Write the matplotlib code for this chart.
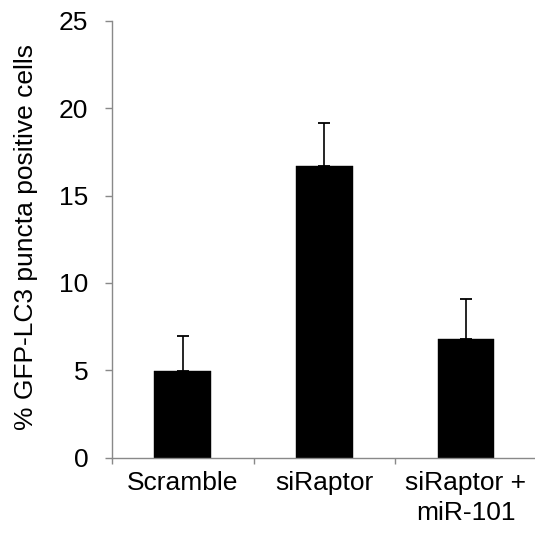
import matplotlib
matplotlib.use("Agg")
import matplotlib.pyplot as plt
import numpy as np

categories = ["Scramble", "siRaptor", "siRaptor +\nmiR-101"]
values = [4.93, 16.67, 6.8]
errors = [2.02, 2.46, 2.29]
yticks = [0, 5, 10, 15, 20, 25]

plt.rcParams['font.family'] = ['Liberation Sans', 'DejaVu Sans']

W, H = 535, 546
FS = 19
fig = plt.figure(figsize=(W/100, H/100), dpi=100)
left, right = 112, 536.7
top, bottom = 21.0, 457.5
ax = fig.add_axes([left/W, 1 - bottom/H, (right-left)/W, (bottom-top)/H])

x = np.arange(len(categories))
ax.bar(x, values, width=0.4, color='black', edgecolor='black', linewidth=0.3)
ax.errorbar(x, values, yerr=[np.zeros(len(values)), errors], fmt='none',
            ecolor='black', elinewidth=1.2, capsize=4.3, capthick=1.3)

ax.set_xlim(-0.5, len(categories) - 0.5)
ax.set_ylim(0, 25)
ax.set_yticks(yticks)
ax.set_yticklabels([str(t) for t in yticks], fontsize=FS)

ax.set_xticks(x)
ax.set_xticklabels(categories, fontsize=FS, linespacing=1.32, va='top')
ax.tick_params(axis='x', length=0, pad=9.5)
ax.set_xticks(np.arange(len(categories)+1) - 0.5, minor=True)
ax.tick_params(axis='x', which='minor', length=4.5, width=1.0, color='#898989', direction='out')
ax.tick_params(axis='y', length=5, width=1.0, color='#898989', direction='out', pad=12)

for s in ['top', 'right']:
    ax.spines[s].set_visible(False)
for s in ['left', 'bottom']:
    ax.spines[s].set_color('#898989')
    ax.spines[s].set_linewidth(1.0)

fig.text(26/W, 1 - 237/H, "% GFP-LC3 puncta positive cells", rotation=90,
         ha='center', va='center', fontsize=FS)

fig.savefig("out.png", dpi=100)
